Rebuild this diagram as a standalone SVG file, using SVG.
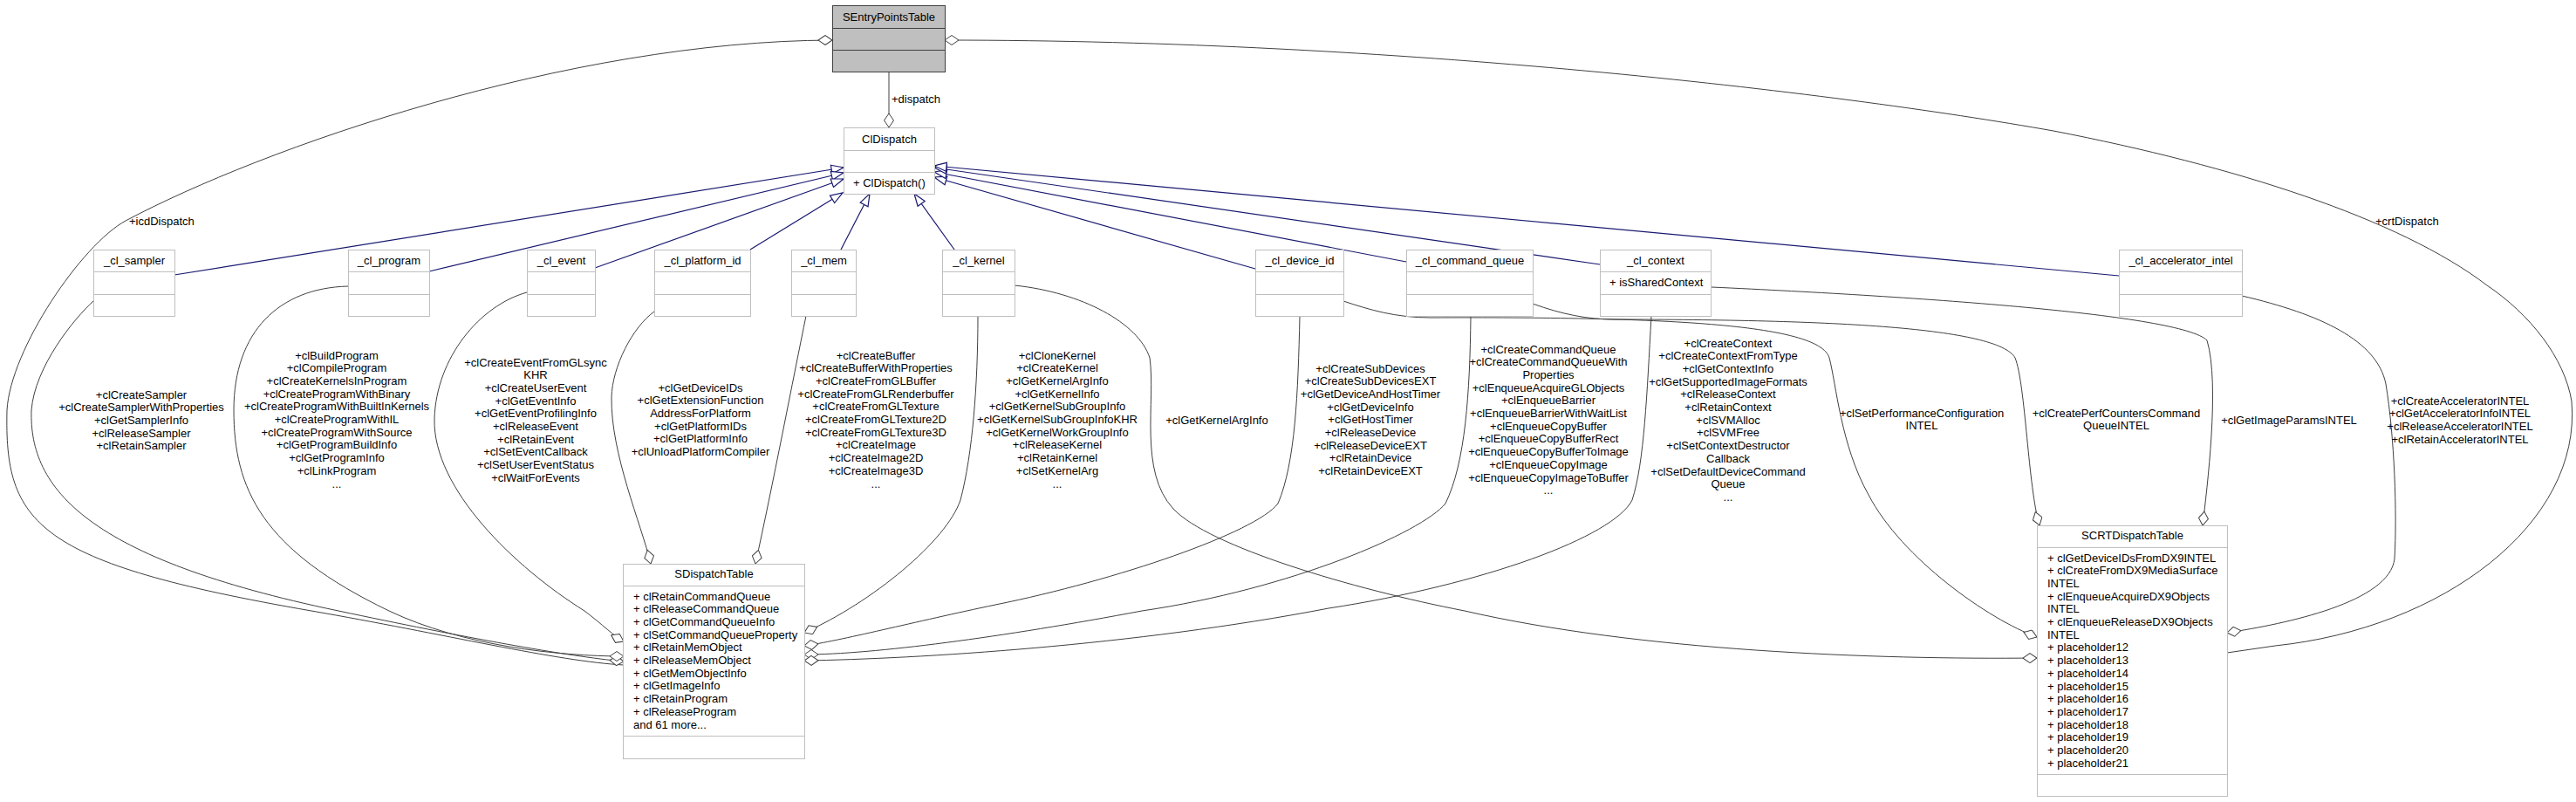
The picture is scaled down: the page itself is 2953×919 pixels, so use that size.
<svg xmlns="http://www.w3.org/2000/svg" width="2953" height="919" viewBox="0 0 2953 919">
<style>
text{font-family:"Liberation Sans",Arial,sans-serif;font-size:13px;fill:#000}
.c{text-anchor:middle}
.box{fill:#fff;stroke:#bfbfbf;stroke-width:1}
.root{fill:#bfbfbf;stroke:#404040;stroke-width:1}
.sep{fill:none;stroke:#bfbfbf;stroke-width:1}
.rsep{fill:none;stroke:#404040;stroke-width:1}
.inh{fill:none;stroke:#191970;stroke-width:1.2;marker-end:url(#tri)}
.agg{fill:none;stroke:#404040;stroke-width:1}
.ae{marker-end:url(#dE)}
.as{marker-start:url(#dS)}
</style>
<defs>
<marker id="tri" markerUnits="userSpaceOnUse" markerWidth="16" markerHeight="12" viewBox="0 0 16 12" refX="15" refY="6" orient="auto"><path d="M1,1 L15,6 L1,11 Z" fill="#fff" stroke="#191970" stroke-width="1.2"/></marker>
<marker id="dE" markerUnits="userSpaceOnUse" markerWidth="18" markerHeight="12" viewBox="0 0 18 12" refX="17" refY="6" orient="auto"><path d="M1,6 L9,0.5 L17,6 L9,11.5 Z" fill="#fff" stroke="#404040" stroke-width="1"/></marker>
<marker id="dS" markerUnits="userSpaceOnUse" markerWidth="18" markerHeight="12" viewBox="0 0 18 12" refX="1" refY="6" orient="auto"><path d="M1,6 L9,0.5 L17,6 L9,11.5 Z" fill="#fff" stroke="#404040" stroke-width="1"/></marker>
</defs>

<g id="connectors">
<path class="inh" d="M200,315 L967,192"/>
<path class="inh" d="M492,311 L967,198"/>
<path class="inh" d="M682,307 L967,205"/>
<path class="inh" d="M860,286 L966,221"/>
<path class="inh" d="M964,286 L997,222"/>
<path class="inh" d="M1094,286 L1048,222"/>
<path class="inh" d="M1439,308 L1071,203"/>
<path class="inh" d="M1612,300 L1071,197"/>
<path class="inh" d="M1834,303 L1071,192"/>
<path class="inh" d="M2429,316 L1071,190"/>

<path class="agg ae" d="M1019,82 L1019,146"/>
<path class="agg as" d="M954,46 C650,47 300,170 144,253 C94,280 12,400 8,470 C5,600 40,645 357,700 C507,726 640,758 715,762"/>
<path class="agg as" d="M1083,46 C1600,46 2100,105 2354,150 C2560,190 2750,250 2851,327 C2900,360 2940,410 2948,460 C2960,600 2800,720 2608,740 L2553,748"/>
<path class="agg ae" d="M107,345 C85,365 40,420 36,470 C33,560 100,640 388,700 C530,730 650,752 715,758"/>
<path class="agg ae" d="M399,328 C320,330 268,380 268,470 C268,560 300,630 446,700 C530,740 640,752 715,752"/>
<path class="agg ae" d="M604,335 C550,350 500,410 498,480 C496,560 590,650 670,700 C690,715 705,730 715,735"/>
<path class="agg ae" d="M750,357 C725,375 702,420 701,455 C700,520 735,600 746,646"/>
<path class="agg ae" d="M924,362 C910,430 885,560 866,646"/>
<path class="agg ae" d="M1121,362 C1121,440 1115,520 1101,573 C1085,620 1000,690 922,725"/>
<path class="agg ae" d="M1163,327 C1240,335 1305,370 1318,410 C1325,460 1305,540 1345,583 C1385,626 1550,675 1679,700 C1879,746 2150,756 2335,754"/>
<path class="agg ae" d="M1490,362 C1488,450 1485,530 1465,577 C1440,610 1280,665 1141,693 C1050,712 960,735 922,740"/>
<path class="agg ae" d="M1540,345 C1570,355 1600,364 1640,364 C1900,363 2085,370 2097,410 C2105,440 2110,510 2142,567 C2180,640 2280,710 2335,730"/>
<path class="agg ae" d="M1686,362 C1685,450 1680,530 1657,577 C1630,610 1480,675 1309,700 C1150,730 1000,750 922,750"/>
<path class="agg ae" d="M1757,348 C1790,360 1820,366 1850,366 C2100,366 2290,375 2310,410 C2322,440 2325,560 2338,602"/>
<path class="agg ae" d="M1893,362 C1888,450 1885,530 1871,573 C1850,615 1700,670 1523,697 C1300,740 1050,755 922,757"/>
<path class="agg ae" d="M1962,329 C2200,340 2500,360 2530,390 C2545,440 2530,560 2525,602"/>
<path class="agg ae" d="M2570,339 C2660,360 2725,390 2735,440 C2745,500 2748,590 2745,640 C2740,690 2620,715 2553,725"/>

<text x="1022" y="117.5">+dispatch</text>
<text x="148" y="257.5">+icdDispatch</text>
<text x="2723" y="257.5">+crtDispatch</text>
<text class="c"><tspan x="162" y="456.5">+clCreateSampler</tspan><tspan x="162" dy="14.7">+clCreateSamplerWithProperties</tspan><tspan x="162" dy="14.7">+clGetSamplerInfo</tspan><tspan x="162" dy="14.7">+clReleaseSampler</tspan><tspan x="162" dy="14.7">+clRetainSampler</tspan></text>
<text class="c"><tspan x="386" y="411.5">+clBuildProgram</tspan><tspan x="386" dy="14.7">+clCompileProgram</tspan><tspan x="386" dy="14.7">+clCreateKernelsInProgram</tspan><tspan x="386" dy="14.7">+clCreateProgramWithBinary</tspan><tspan x="386" dy="14.7">+clCreateProgramWithBuiltInKernels</tspan><tspan x="386" dy="14.7">+clCreateProgramWithIL</tspan><tspan x="386" dy="14.7">+clCreateProgramWithSource</tspan><tspan x="386" dy="14.7">+clGetProgramBuildInfo</tspan><tspan x="386" dy="14.7">+clGetProgramInfo</tspan><tspan x="386" dy="14.7">+clLinkProgram</tspan><tspan x="386" dy="14.7">...</tspan></text>
<text class="c"><tspan x="614" y="419.5">+clCreateEventFromGLsync</tspan><tspan x="614" dy="14.7">KHR</tspan><tspan x="614" dy="14.7">+clCreateUserEvent</tspan><tspan x="614" dy="14.7">+clGetEventInfo</tspan><tspan x="614" dy="14.7">+clGetEventProfilingInfo</tspan><tspan x="614" dy="14.7">+clReleaseEvent</tspan><tspan x="614" dy="14.7">+clRetainEvent</tspan><tspan x="614" dy="14.7">+clSetEventCallback</tspan><tspan x="614" dy="14.7">+clSetUserEventStatus</tspan><tspan x="614" dy="14.7">+clWaitForEvents</tspan></text>
<text class="c"><tspan x="803" y="448.5">+clGetDeviceIDs</tspan><tspan x="803" dy="14.7">+clGetExtensionFunction</tspan><tspan x="803" dy="14.7">AddressForPlatform</tspan><tspan x="803" dy="14.7">+clGetPlatformIDs</tspan><tspan x="803" dy="14.7">+clGetPlatformInfo</tspan><tspan x="803" dy="14.7">+clUnloadPlatformCompiler</tspan></text>
<text class="c"><tspan x="1004" y="411.5">+clCreateBuffer</tspan><tspan x="1004" dy="14.7">+clCreateBufferWithProperties</tspan><tspan x="1004" dy="14.7">+clCreateFromGLBuffer</tspan><tspan x="1004" dy="14.7">+clCreateFromGLRenderbuffer</tspan><tspan x="1004" dy="14.7">+clCreateFromGLTexture</tspan><tspan x="1004" dy="14.7">+clCreateFromGLTexture2D</tspan><tspan x="1004" dy="14.7">+clCreateFromGLTexture3D</tspan><tspan x="1004" dy="14.7">+clCreateImage</tspan><tspan x="1004" dy="14.7">+clCreateImage2D</tspan><tspan x="1004" dy="14.7">+clCreateImage3D</tspan><tspan x="1004" dy="14.7">...</tspan></text>
<text class="c"><tspan x="1212" y="411.5">+clCloneKernel</tspan><tspan x="1212" dy="14.7">+clCreateKernel</tspan><tspan x="1212" dy="14.7">+clGetKernelArgInfo</tspan><tspan x="1212" dy="14.7">+clGetKernelInfo</tspan><tspan x="1212" dy="14.7">+clGetKernelSubGroupInfo</tspan><tspan x="1212" dy="14.7">+clGetKernelSubGroupInfoKHR</tspan><tspan x="1212" dy="14.7">+clGetKernelWorkGroupInfo</tspan><tspan x="1212" dy="14.7">+clReleaseKernel</tspan><tspan x="1212" dy="14.7">+clRetainKernel</tspan><tspan x="1212" dy="14.7">+clSetKernelArg</tspan><tspan x="1212" dy="14.7">...</tspan></text>
<text class="c" x="1395" y="485.5">+clGetKernelArgInfo</text>
<text class="c"><tspan x="1571" y="426.5">+clCreateSubDevices</tspan><tspan x="1571" dy="14.7">+clCreateSubDevicesEXT</tspan><tspan x="1571" dy="14.7">+clGetDeviceAndHostTimer</tspan><tspan x="1571" dy="14.7">+clGetDeviceInfo</tspan><tspan x="1571" dy="14.7">+clGetHostTimer</tspan><tspan x="1571" dy="14.7">+clReleaseDevice</tspan><tspan x="1571" dy="14.7">+clReleaseDeviceEXT</tspan><tspan x="1571" dy="14.7">+clRetainDevice</tspan><tspan x="1571" dy="14.7">+clRetainDeviceEXT</tspan></text>
<text class="c"><tspan x="1775" y="404.5">+clCreateCommandQueue</tspan><tspan x="1775" dy="14.7">+clCreateCommandQueueWith</tspan><tspan x="1775" dy="14.7">Properties</tspan><tspan x="1775" dy="14.7">+clEnqueueAcquireGLObjects</tspan><tspan x="1775" dy="14.7">+clEnqueueBarrier</tspan><tspan x="1775" dy="14.7">+clEnqueueBarrierWithWaitList</tspan><tspan x="1775" dy="14.7">+clEnqueueCopyBuffer</tspan><tspan x="1775" dy="14.7">+clEnqueueCopyBufferRect</tspan><tspan x="1775" dy="14.7">+clEnqueueCopyBufferToImage</tspan><tspan x="1775" dy="14.7">+clEnqueueCopyImage</tspan><tspan x="1775" dy="14.7">+clEnqueueCopyImageToBuffer</tspan><tspan x="1775" dy="14.7">...</tspan></text>
<text class="c"><tspan x="1981" y="397.5">+clCreateContext</tspan><tspan x="1981" dy="14.7">+clCreateContextFromType</tspan><tspan x="1981" dy="14.7">+clGetContextInfo</tspan><tspan x="1981" dy="14.7">+clGetSupportedImageFormats</tspan><tspan x="1981" dy="14.7">+clReleaseContext</tspan><tspan x="1981" dy="14.7">+clRetainContext</tspan><tspan x="1981" dy="14.7">+clSVMAlloc</tspan><tspan x="1981" dy="14.7">+clSVMFree</tspan><tspan x="1981" dy="14.7">+clSetContextDestructor</tspan><tspan x="1981" dy="14.7">Callback</tspan><tspan x="1981" dy="14.7">+clSetDefaultDeviceCommand</tspan><tspan x="1981" dy="14.7">Queue</tspan><tspan x="1981" dy="14.7">...</tspan></text>
<text class="c"><tspan x="2203" y="477.5">+clSetPerformanceConfiguration</tspan><tspan x="2203" dy="14.7">INTEL</tspan></text>
<text class="c"><tspan x="2426" y="477.5">+clCreatePerfCountersCommand</tspan><tspan x="2426" dy="14.7">QueueINTEL</tspan></text>
<text class="c" x="2624" y="485.5">+clGetImageParamsINTEL</text>
<text class="c"><tspan x="2820" y="463.5">+clCreateAcceleratorINTEL</tspan><tspan x="2820" dy="14.7">+clGetAcceleratorInfoINTEL</tspan><tspan x="2820" dy="14.7">+clReleaseAcceleratorINTEL</tspan><tspan x="2820" dy="14.7">+clRetainAcceleratorINTEL</tspan></text>
</g>

<g id="SEntryPointsTable"><rect class="root" x="954.5" y="6.5" width="129" height="76"/><path class="rsep" d="M954.5,32.5H1083.5M954.5,57.5H1083.5"/><text class="c" x="1019" y="23.5">SEntryPointsTable</text></g>
<g id="ClDispatch"><rect class="box" x="967.5" y="146.5" width="104" height="76"/><path class="sep" d="M967.5,172.5H1071.5M967.5,197.5H1071.5"/><text class="c" x="1019.5" y="163.5">ClDispatch</text><text x="978" y="213.5">+ ClDispatch()</text></g>

<g id="cl_sampler"><rect class="box" x="107.5" y="286.5" width="93" height="76"/><path class="sep" d="M107.5,311.5H200.5M107.5,337.5H200.5"/><text class="c" x="154" y="303">_cl_sampler</text></g>
<g id="cl_program"><rect class="box" x="399.5" y="286.5" width="93" height="76"/><path class="sep" d="M399.5,311.5H492.5M399.5,337.5H492.5"/><text class="c" x="446" y="303">_cl_program</text></g>
<g id="cl_event"><rect class="box" x="604.5" y="286.5" width="78" height="76"/><path class="sep" d="M604.5,311.5H682.5M604.5,337.5H682.5"/><text class="c" x="643.5" y="303">_cl_event</text></g>
<g id="cl_platform_id"><rect class="box" x="750.5" y="286.5" width="110" height="76"/><path class="sep" d="M750.5,311.5H860.5M750.5,337.5H860.5"/><text class="c" x="805.5" y="303">_cl_platform_id</text></g>
<g id="cl_mem"><rect class="box" x="907.5" y="286.5" width="74" height="76"/><path class="sep" d="M907.5,311.5H981.5M907.5,337.5H981.5"/><text class="c" x="944.5" y="303">_cl_mem</text></g>
<g id="cl_kernel"><rect class="box" x="1080.5" y="286.5" width="83" height="76"/><path class="sep" d="M1080.5,311.5H1163.5M1080.5,337.5H1163.5"/><text class="c" x="1122" y="303">_cl_kernel</text></g>
<g id="cl_device_id"><rect class="box" x="1439.5" y="286.5" width="101" height="76"/><path class="sep" d="M1439.5,311.5H1540.5M1439.5,337.5H1540.5"/><text class="c" x="1490" y="303">_cl_device_id</text></g>
<g id="cl_command_queue"><rect class="box" x="1612.5" y="286.5" width="145" height="76"/><path class="sep" d="M1612.5,311.5H1757.5M1612.5,337.5H1757.5"/><text class="c" x="1685" y="303">_cl_command_queue</text></g>
<g id="cl_context"><rect class="box" x="1834.5" y="286.5" width="127" height="76"/><path class="sep" d="M1834.5,311.5H1961.5M1834.5,337.5H1961.5"/><text class="c" x="1898" y="303">_cl_context</text><text x="1845" y="328">+ isSharedContext</text></g>
<g id="cl_accelerator_intel"><rect class="box" x="2429.5" y="286.5" width="141" height="76"/><path class="sep" d="M2429.5,311.5H2570.5M2429.5,337.5H2570.5"/><text class="c" x="2500" y="303">_cl_accelerator_intel</text></g>

<g id="SDispatchTable"><rect class="box" x="714.5" y="646.5" width="208" height="223"/><path class="sep" d="M714.5,671.5H922.5M714.5,843.5H922.5"/><text class="c" x="818.5" y="661.5">SDispatchTable</text>
<text><tspan x="726" y="687.5">+ clRetainCommandQueue</tspan><tspan x="726" dy="14.7">+ clReleaseCommandQueue</tspan><tspan x="726" dy="14.7">+ clGetCommandQueueInfo</tspan><tspan x="726" dy="14.7">+ clSetCommandQueueProperty</tspan><tspan x="726" dy="14.7">+ clRetainMemObject</tspan><tspan x="726" dy="14.7">+ clReleaseMemObject</tspan><tspan x="726" dy="14.7">+ clGetMemObjectInfo</tspan><tspan x="726" dy="14.7">+ clGetImageInfo</tspan><tspan x="726" dy="14.7">+ clRetainProgram</tspan><tspan x="726" dy="14.7">+ clReleaseProgram</tspan><tspan x="726" dy="14.7">and 61 more...</tspan></text></g>

<g id="SCRTDispatchTable"><rect class="box" x="2335.5" y="602.5" width="218" height="310"/><path class="sep" d="M2335.5,627.5H2553.5M2335.5,887.5H2553.5"/><text class="c" x="2444.5" y="617.5">SCRTDispatchTable</text>
<text><tspan x="2347" y="643.5">+ clGetDeviceIDsFromDX9INTEL</tspan><tspan x="2347" dy="14.7">+ clCreateFromDX9MediaSurface</tspan><tspan x="2347" dy="14.7">INTEL</tspan><tspan x="2347" dy="14.7">+ clEnqueueAcquireDX9Objects</tspan><tspan x="2347" dy="14.7">INTEL</tspan><tspan x="2347" dy="14.7">+ clEnqueueReleaseDX9Objects</tspan><tspan x="2347" dy="14.7">INTEL</tspan><tspan x="2347" dy="14.7">+ placeholder12</tspan><tspan x="2347" dy="14.7">+ placeholder13</tspan><tspan x="2347" dy="14.7">+ placeholder14</tspan><tspan x="2347" dy="14.7">+ placeholder15</tspan><tspan x="2347" dy="14.7">+ placeholder16</tspan><tspan x="2347" dy="14.7">+ placeholder17</tspan><tspan x="2347" dy="14.7">+ placeholder18</tspan><tspan x="2347" dy="14.7">+ placeholder19</tspan><tspan x="2347" dy="14.7">+ placeholder20</tspan><tspan x="2347" dy="14.7">+ placeholder21</tspan></text></g>
</svg>
